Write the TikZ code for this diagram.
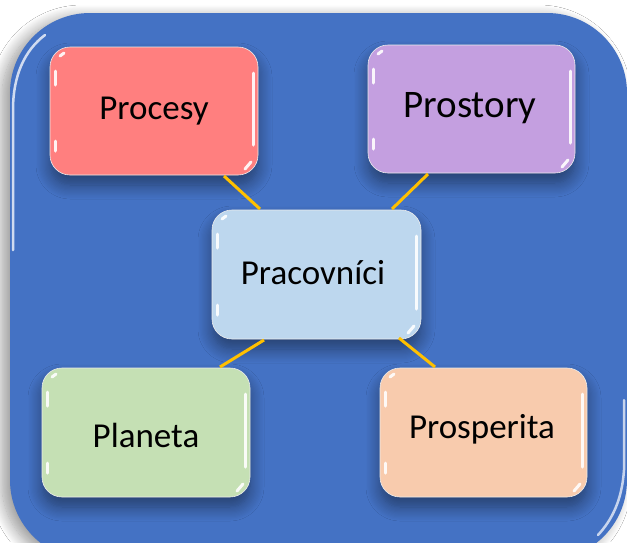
\documentclass[tikz,border=0pt]{standalone}
\usepackage{fontspec}
\setmainfont{Carlito}
\usetikzlibrary{shadows.blur}
\definecolor{bgblue}{HTML}{4472C4}
\definecolor{bgdark}{HTML}{2F5597}
\definecolor{linkgold}{HTML}{FFC000}
\definecolor{cred}{HTML}{FF7F7F}
\definecolor{cpurple}{HTML}{C49FE0}
\definecolor{cblue}{HTML}{BDD7EE}
\definecolor{cgreen}{HTML}{C5E0B4}
\definecolor{corange}{HTML}{F8CBAD}
\tikzset{
  box/.style={rounded corners=20pt, draw=white!85!gray, line width=0.6pt,
    blur shadow={shadow blur steps=12, shadow blur radius=14pt, shadow xshift=0pt, shadow yshift=-10pt, shadow opacity=45}},
  link/.style={draw=linkgold, line width=3pt},
  lbl/.style={font=\fontsize{35}{40}\selectfont, text=black, inner sep=0pt},
  gloss/.style={draw=white, line width=3pt, line cap=round, opacity=0.9}
}
\begin{document}
\begin{tikzpicture}[x=1pt,y=-1pt]
\useasboundingbox (0,0) rectangle (627,542);
\clip (0,0) rectangle (627,542);
\fill[white] (0,0) rectangle (627,542);
% outer panel with soft shadow
\fill[bgblue, rounded corners=80pt, blur shadow={shadow blur steps=14, shadow blur radius=12pt, shadow xshift=-8pt, shadow yshift=-4pt, shadow opacity=40}] (10,13) rectangle (627,560);
\draw[white, opacity=0.75, line width=2.5pt, line cap=round] (13,250) -- (13,110) .. controls (13,75) and (25,50) .. (45,35);
\draw[white, opacity=0.7, line width=2.5pt, line cap=round] (624,400) -- (624,470) .. controls (622,500) and (612,520) .. (598,535);
% boxes
\path[box, fill=cred] (50,47) rectangle (258,175);
\path[box, fill=cpurple] (368,45) rectangle (575,173);
\path[box, fill=cblue] (212,210) rectangle (421,339);
\path[box, fill=cgreen] (42,368) rectangle (250,497);
\path[box, fill=corange] (380,368) rectangle (587,497);
% gloss highlights
\foreach \xa/\ya/\xb/\yb in {50/47/258/175, 368/45/575/173, 212/210/421/339, 42/368/250/497, 380/368/587/497}{
  \draw[gloss] (\xa+5,\ya+24) -- (\xa+5,\ya+38);
  \draw[gloss] (\xa+10,\ya+9) -- (\xa+14,\ya+6);
  \draw[gloss] (\xb-5,\ya+26) -- (\xb-5,\yb-30);
  \draw[gloss] (\xa+5,\yb-34) -- (\xa+5,\yb-24);
  \draw[gloss] (\xb-13,\yb-6) -- (\xb-7,\yb-13);
}
% labels
\node[lbl] (procesy) at (154,111) {Procesy};
\node[lbl, font=\fontsize{39}{44}\selectfont] (prostory) at (470,108) {Prostory};
\node[lbl] (prac) at (313,273) {Pracovníci};
\node[lbl] (planeta) at (146,435) {Planeta};
\node[lbl] (prosp) at (482,429) {Prosperita};
% connectors
\coordinate (a1) at (224,176); \coordinate (a2) at (260,209);
\coordinate (b1) at (428,174); \coordinate (b2) at (392,209);
\coordinate (c1) at (264,340); \coordinate (c2) at (220,367);
\coordinate (d1) at (399,338); \coordinate (d2) at (435,367);
\draw[link] (a1) -- (a2);
\draw[link] (b1) -- (b2);
\draw[link] (c1) -- (c2);
\draw[link] (d1) -- (d2);
\end{tikzpicture}
\end{document}
